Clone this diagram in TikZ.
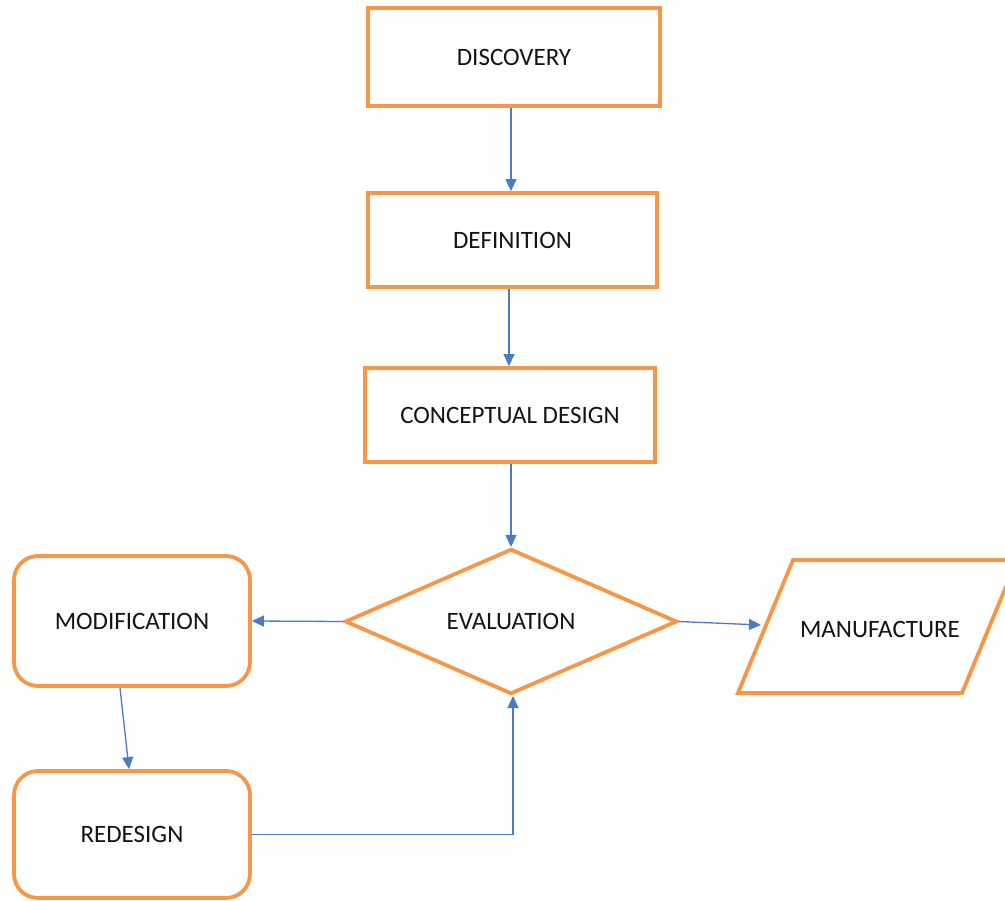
\documentclass[tikz,border=0pt]{standalone}
\usepackage{fontspec}
\setmainfont{Carlito}
\usetikzlibrary{shapes.geometric,arrows.meta}
\definecolor{boxorange}{HTML}{F79646}
\definecolor{arrblue}{HTML}{4A7CC4}
\definecolor{txt}{HTML}{141414}
\tikzset{
  box/.style={draw=boxorange, line width=3.8pt, fill=white, inner sep=0pt, text=txt,
    font=\fontsize{25}{29}\selectfont},
  rbox/.style={box, rounded corners=24pt},
  dia/.style={box, shape=diamond},
  arr/.style={draw=arrblue, line width=1.3pt, -{Triangle[length=12pt,width=11pt]}},
  lbl/.style={text=txt, inner sep=0pt, font=\fontsize{25}{29}\selectfont}
}
\begin{document}
\begin{tikzpicture}[x=1pt,y=-1pt]
\useasboundingbox (0,0) rectangle (1005,901);
\fill[white] (0,0) rectangle (1005,901);

\node[box, minimum width=292pt, minimum height=98pt] (disc) at (514,57) {\raisebox{-2pt}{DISCOVERY}};
\node[box, minimum width=289pt, minimum height=94pt] (defn) at (512.5,240) {\raisebox{-1pt}{DEFINITION}};
\node[box, minimum width=290pt, minimum height=94pt] (conc) at (510,415) {\raisebox{-1pt}{CONCEPTUAL DESIGN}};
\node[dia, minimum width=332pt, minimum height=143pt] (eval) at (511,621.5) {EVALUATION};
\node[rbox, minimum width=236pt, minimum height=130pt] (modi) at (132,621) {\raisebox{-1pt}{MODIFICATION}};
\node[rbox, minimum width=236pt, minimum height=127pt] (rede) at (132,834.5) {\raisebox{-2pt}{REDESIGN}};

\begin{scope}
\clip (0,0) rectangle (1005,901);
\draw[draw=boxorange, line width=3.8pt, fill=white, line join=miter]
  (793,560) -- (1017,560) -- (962,693) -- (738,693) -- cycle;
\end{scope}
\node[lbl] (manu) at (880,629) {MANUFACTURE};
\coordinate (manuL) at (761,625);

\draw[arr] ([xshift=-3pt]disc.south) -- ([xshift=-3pt]disc.south |- defn.north);
\draw[arr] ([xshift=-3.5pt]defn.south) -- ([xshift=-3.5pt]defn.south |- conc.north);
\draw[arr] (conc.south -| eval.north) -- (eval.north);
\draw[arr] (eval.west) -- (modi.east);
\draw[arr] (eval.east) -- (manuL);
\draw[arr] ([xshift=-12pt]modi.south) -- ([xshift=-3pt]rede.north);
\draw[arr] (rede.east) -| ([xshift=2pt]eval.south);
\end{tikzpicture}
\end{document}
